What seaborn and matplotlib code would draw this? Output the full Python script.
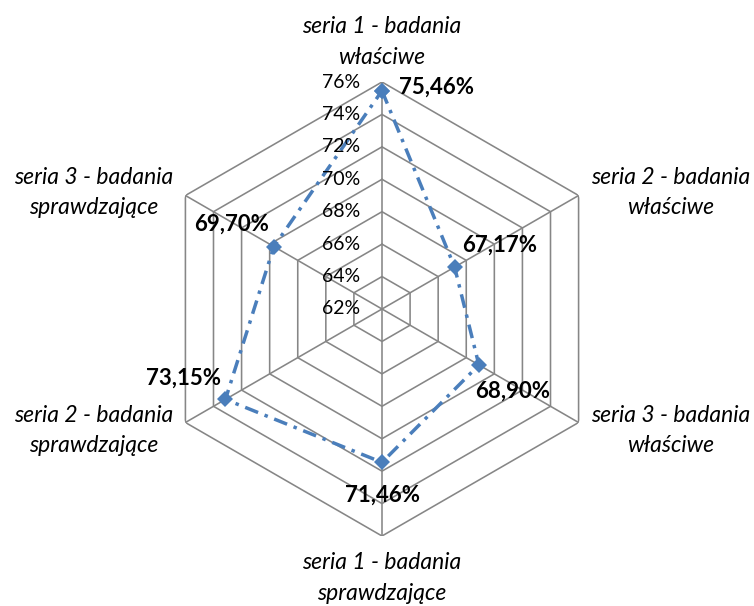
import numpy as np
import pandas as pd
import matplotlib
matplotlib.use("Agg")
import matplotlib.pyplot as plt
import seaborn as sns

categories = ["seria 1 - badania\nwłaściwe", "seria 2 - badania\nwłaściwe",
              "seria 3 - badania\nwłaściwe", "seria 1 - badania\nsprawdzające",
              "seria 2 - badania\nsprawdzające", "seria 3 - badania\nsprawdzające"]
values = [75.46, 67.17, 68.90, 71.46, 73.15, 69.70]
value_labels = ["75,46%", "67,17%", "68,90%", "71,46%", "73,15%", "69,70%"]
tick_values = [62, 64, 66, 68, 70, 72, 74, 76]
tick_labels = ["62%", "64%", "66%", "68%", "70%", "72%", "74%", "76%"]

sns.set_theme(style="white")
plt.rcParams['font.family'] = ['Lato', 'DejaVu Sans']

fig = plt.figure(figsize=(7.54, 6.06), dpi=100, facecolor='white')
ax = fig.add_axes([155/754, 70/606, 454/754, 454/606], projection='polar')
ax.set_theta_zero_location('N')
ax.set_theta_direction(-1)
ax.set_ylim(tick_values[0], tick_values[-1])
ax.grid(False)
ax.spines['polar'].set_visible(False)
ax.set_xticks([])
ax.set_yticks([])
ax.patch.set_alpha(0)

n = len(categories)
angles = np.linspace(0, 2*np.pi, n, endpoint=False)
closed = np.append(angles, angles[0])
grid_color = '#868686'
for r in tick_values[1:]:
    ax.plot(closed, [r]*(n+1), color=grid_color, lw=1.15, zorder=1)
for a in angles:
    ax.plot([a, a], [tick_values[0], tick_values[-1]], color=grid_color, lw=1.15, zorder=1)

df = pd.DataFrame({'angle': closed, 'value': values + values[:1]})
sns.lineplot(data=df, x='angle', y='value', sort=False, estimator=None, ax=ax,
             color='#4A7EBB', lw=2.5, marker='D', markersize=8.5,
             markeredgewidth=0, zorder=3)
ax.lines[-1].set_linestyle((0, (4, 2, 1, 2)))
ax.set_xlabel('')
ax.set_ylabel('')

for r, lab in zip(tick_values, tick_labels):
    ax.annotate(lab, xy=(0, r), xytext=(-22, 0), textcoords='offset pixels',
                ha='right', va='center', fontsize=14, color='#000000')

val_offsets = [(54, 4), (45, 22), (34, -26), (0, -33), (-42, 21), (-42, 22)]
for a, v, lab, off in zip(angles, values, value_labels, val_offsets):
    ax.annotate(lab, xy=(a, v), xytext=off, textcoords='offset pixels',
                ha='center', va='center', fontsize=16, fontweight='bold',
                color='#000000', zorder=5)

cat_offsets = [(0, 40), (92, 3), (92, -8), (0, -42), (-92, -8), (-92, 3)]
for a, lab, off in zip(angles, categories, cat_offsets):
    ax.annotate(lab, xy=(a, tick_values[-1]), xytext=off, textcoords='offset pixels',
                ha='center', va='center', fontsize=16.5, style='italic',
                multialignment='center', linespacing=1.55, color='#000000',
                annotation_clip=False)

fig.savefig('out.png', dpi=100, facecolor='white')
